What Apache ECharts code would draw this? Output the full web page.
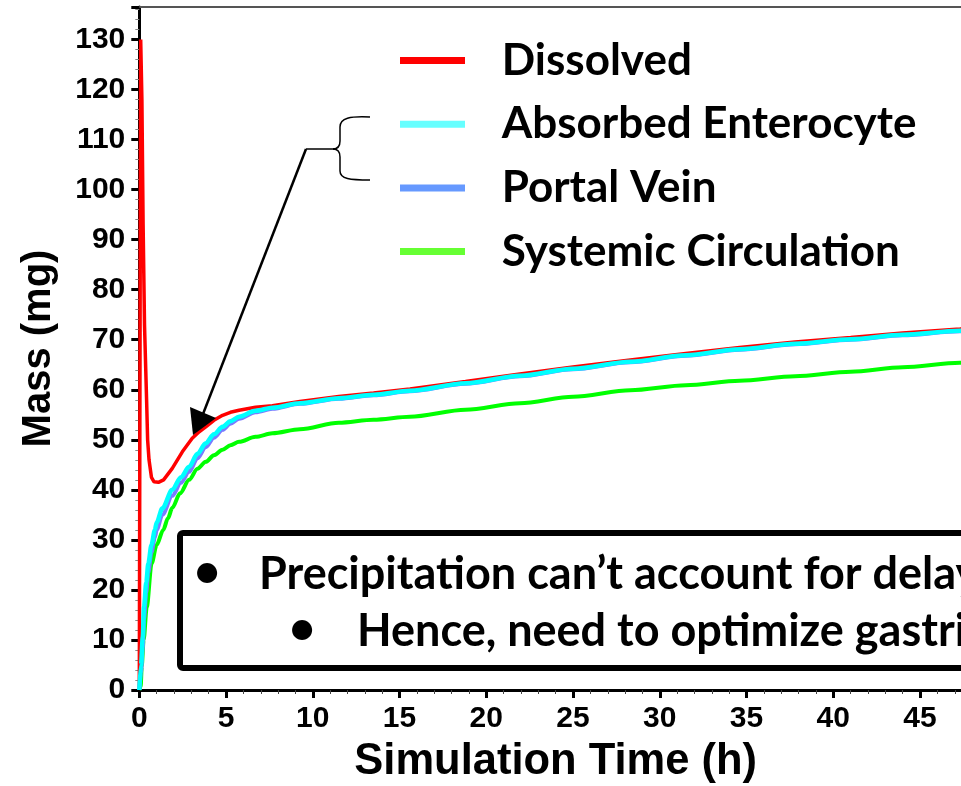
<!DOCTYPE html>
<html><head><meta charset="utf-8">
<script src="https://cdn.jsdelivr.net/npm/echarts@6/dist/echarts.min.js"></script>
<style>html,body{margin:0;padding:0;background:#fff;overflow:hidden}#c{width:961px;height:786px}</style>
</head><body><div id="c"></div>
<script>
// ---- data ----
const dissolvedTime = [0, 0.08, 0.15, 0.22, 0.3, 0.42, 0.48, 0.56, 0.7, 0.85, 1.1, 1.4, 1.9, 2.48, 3.05, 3.45, 3.83, 4.3, 4.8, 5.25, 5.75, 6.7, 7.67, 9.26, 11.5, 13.5, 15.6, 18.8, 21.94, 25, 28.3, 31.5, 34.6, 37.8, 41, 44, 47.3, 48];
const dissolvedMass = [0, 130, 118, 93, 73, 58, 50, 46, 42.5, 41.6, 41.5, 42, 44.3, 47.6, 50.3, 51.6, 52.6, 53.9, 54.9, 55.5, 55.9, 56.5, 56.8, 57.65, 58.65, 59.35, 60.15, 61.65, 63.15, 64.55, 65.95, 67.25, 68.45, 69.55, 70.45, 71.35, 72.15, 72.35];

const enterocyteTime = [0, 0.1, 0.2, 0.27, 0.4, 0.52, 0.7, 0.9, 1.0, 1.33, 1.9, 2.4, 2.87, 3.35, 3.83, 4.3, 4.8, 5.25, 5.75, 6.7, 7.67, 9.26, 11.5, 13.5, 15.6, 18.8, 21.94, 25, 28.3, 31.5, 34.6, 37.8, 41, 44, 47.3, 48];
const enterocyteMass = [0, 5, 10.6, 16.6, 21.5, 25.3, 29, 32, 33.5, 36.3, 40, 42.5, 44.6, 47.2, 49.3, 51.1, 52.6, 53.7, 54.6, 55.8, 56.4, 57.3, 58.3, 59.0, 59.8, 61.3, 62.8, 64.2, 65.6, 66.9, 68.1, 69.2, 70.1, 71.0, 71.8, 72.0];

const portalTime = [0, 0.1, 0.2, 0.27, 0.4, 0.52, 0.7, 0.9, 1.0, 1.33, 1.9, 2.4, 2.87, 3.35, 3.83, 4.3, 4.8, 5.25, 5.75, 6.7, 7.67, 9.26, 11.5, 13.5, 15.6, 18.8, 21.94, 25, 28.3, 31.5, 34.6, 37.8, 41, 44, 47.3, 48];
const portalMass = [0, 3.5, 8.5, 14, 19.5, 23.5, 27.5, 30.5, 32, 35, 38.8, 41.4, 43.6, 46.3, 48.5, 50.4, 52, 53.2, 54.2, 55.5, 56.2, 57.2, 58.2, 58.9, 59.7, 61.2, 62.7, 64.1, 65.5, 66.8, 68.0, 69.1, 70.0, 70.9, 71.7, 71.9];

const systemicTime = [0, 0.08, 0.14, 0.25, 0.43, 0.71, 1.0, 1.38, 1.65, 1.9, 2.35, 2.87, 3.35, 3.83, 4.3, 4.8, 5.25, 5.75, 6.7, 7.67, 9.26, 11.5, 13.5, 15.6, 18.8, 21.94, 25, 28.3, 31.5, 34.6, 37.8, 41, 44, 47.3, 48];
const systemicMass = [0, 0.7, 4.7, 10, 16.6, 25.3, 29, 32, 34.3, 36.4, 39.3, 42, 44.2, 45.6, 46.9, 48, 48.9, 49.6, 50.6, 51.3, 52.1, 53.4, 54.0, 54.6, 56.0, 57.3, 58.6, 59.9, 60.9, 61.8, 62.7, 63.6, 64.5, 65.4, 65.6];

const seriesNames = ['Dissolved', 'Absorbed Enterocyte', 'Portal Vein', 'Systemic Circulation'];
const xTickLabels = ['0', '5', '10', '15', '20', '25', '30', '35', '40', '45'];
const yTickLabels = ['0', '10', '20', '30', '40', '50', '60', '70', '80', '90', '100', '110', '120', '130'];
const noteLines = ['Precipitation can’t account for delay', 'Hence, need to optimize gastric'];

function pairs(t, v) { return t.map((x, i) => [x, v[i]]); }

const chart = echarts.init(document.getElementById('c'), null, { renderer: 'canvas' });
const labelFont = 'Liberation Sans';
const textFont = 'Lato';
const blk = { stroke: '#000', fill: null, lineWidth: 1.5 };

chart.setOption({
  animation: false,
  backgroundColor: '#fff',
  grid: { left: 139.3, top: 7, bottom: 96, right: -11.1, containLabel: false, outerBoundsMode: 'none' },
  xAxis: [{
    type: 'value', min: 0, max: 48, interval: 5,
    name: 'Simulation Time (h)', nameLocation: 'middle', nameGap: 50,
    nameTextStyle: { fontFamily: labelFont, fontWeight: 'bold', fontSize: 43.5, color: '#000' },
    axisLine: { show: true, onZero: false, lineStyle: { color: '#000', width: 3 } },
    axisTick: { show: true, inside: false, length: 8, lineStyle: { color: '#000', width: 3 } },
    minorTick: { show: true, splitNumber: 5, length: 4, lineStyle: { color: '#444', width: 1 } },
    axisLabel: { margin: 14, fontFamily: labelFont, fontWeight: 'bold', fontSize: 30, color: '#000',
      formatter: v => xTickLabels.includes(String(v)) ? String(v) : '' },
    splitLine: { show: false }
  }, {
    type: 'value', min: 0, max: 48, position: 'top',
    axisLine: { show: true, onZero: false, lineStyle: { color: '#555', width: 2 } },
    axisTick: { show: false }, axisLabel: { show: false }, splitLine: { show: false }
  }],
  yAxis: {
    type: 'value', min: 0, max: 136.5, interval: 10,
    name: 'Mass (mg)', nameLocation: 'middle', nameGap: 80, nameRotate: 90,
    nameTextStyle: { fontFamily: labelFont, fontWeight: 'bold', fontSize: 40, color: '#000' },
    axisLine: { show: true, onZero: false, lineStyle: { color: '#000', width: 3 } },
    axisTick: { show: true, inside: false, length: 8, lineStyle: { color: '#000', width: 3 } },
    minorTick: { show: true, splitNumber: 5, length: 4, lineStyle: { color: '#888', width: 1 } },
    axisLabel: { margin: 14, fontFamily: labelFont, fontWeight: 'bold', fontSize: 30, color: '#000',
      formatter: v => yTickLabels.includes(String(v)) ? String(v) : '' },
    splitLine: { show: false }
  },
  legend: {
    orient: 'vertical', left: 400, top: 35.5, padding: 0, itemGap: 13.7,
    itemWidth: 65, itemHeight: 7, icon: 'rect', selectedMode: false,
    textStyle: { fontFamily: textFont, fontWeight: 'bold', fontSize: 44, color: '#000', lineHeight: 50, padding: [0, 0, 0, 31.7] },
    data: [
      { name: seriesNames[0], itemStyle: { color: '#ff0000' } },
      { name: seriesNames[1], itemStyle: { color: '#66ffff' } },
      { name: seriesNames[2], itemStyle: { color: '#6699ff' } },
      { name: seriesNames[3], itemStyle: { color: '#66ff33' } }
    ]
  },
  series: [
    { name: seriesNames[3], type: 'line', showSymbol: false, data: pairs(systemicTime, systemicMass),
      smooth: 0.3, smoothMonotone: 'x',
      lineStyle: { color: '#00ff00', width: 4 }, itemStyle: { color: '#00ff00' } },
    { name: seriesNames[0], type: 'line', showSymbol: false, data: pairs(dissolvedTime, dissolvedMass),
      lineStyle: { color: '#ff0000', width: 3.5 }, itemStyle: { color: '#ff0000' } },
    { name: seriesNames[2], type: 'line', showSymbol: false, data: pairs(portalTime, portalMass),
      smooth: 0.3, smoothMonotone: 'x',
      lineStyle: { color: '#7a7aff', width: 4 }, itemStyle: { color: '#7a7aff' } },
    { name: seriesNames[1], type: 'line', showSymbol: false, data: pairs(enterocyteTime, enterocyteMass),
      smooth: 0.3, smoothMonotone: 'x',
      lineStyle: { color: '#00ffff', width: 4.5 }, itemStyle: { color: '#00ffff' } }
  ],
  graphic: [
    { type: 'line', z: 100, shape: { x1: 306, y1: 149, x2: 203, y2: 414 }, style: { stroke: '#000', lineWidth: 2.5 } },
    { type: 'line', z: 100, shape: { x1: 306, y1: 149, x2: 334, y2: 149 }, style: blk },
    { type: 'polygon', z: 100, shape: { points: [[193, 435], [190, 407], [216, 418]] }, style: { fill: '#000' } },
    { type: 'bezierCurve', z: 100, shape: { x1: 370, y1: 117, cpx1: 350, cpy1: 116, cpx2: 340, cpy2: 118, x2: 340, y2: 127 }, style: blk },
    { type: 'line', z: 100, shape: { x1: 340, y1: 127, x2: 340, y2: 141 }, style: blk },
    { type: 'bezierCurve', z: 100, shape: { x1: 340, y1: 141, cpx1: 340, cpy1: 147, cpx2: 337, cpy2: 149, x2: 333, y2: 149 }, style: blk },
    { type: 'bezierCurve', z: 100, shape: { x1: 333, y1: 149, cpx1: 337, cpy1: 149, cpx2: 340, cpy2: 151, x2: 340, y2: 157 }, style: blk },
    { type: 'line', z: 100, shape: { x1: 340, y1: 157, x2: 340, y2: 171 }, style: blk },
    { type: 'bezierCurve', z: 100, shape: { x1: 340, y1: 171, cpx1: 340, cpy1: 179, cpx2: 350, cpy2: 180, x2: 370, y2: 180 }, style: blk },
    { type: 'rect', z: 100, shape: { x: 180, y: 533, width: 900, height: 135, r: 3 }, style: { fill: '#fff', stroke: '#000', lineWidth: 6 } },
    { type: 'text', z: 101, style: { text: '•', x: 207, y: 572, font: 'bold 46px ' + textFont, fill: '#000', align: 'center', verticalAlign: 'middle' } },
    { type: 'text', z: 101, style: { text: noteLines[0], x: 259, y: 574, font: 'bold 45px ' + textFont, fill: '#000', align: 'left', verticalAlign: 'middle' } },
    { type: 'text', z: 101, style: { text: '•', x: 302, y: 629, font: 'bold 46px ' + textFont, fill: '#000', align: 'center', verticalAlign: 'middle' } },
    { type: 'text', z: 101, style: { text: noteLines[1], x: 357, y: 631, font: 'bold 45px ' + textFont, fill: '#000', align: 'left', verticalAlign: 'middle' } }
  ]
});
</script>
</body></html>
